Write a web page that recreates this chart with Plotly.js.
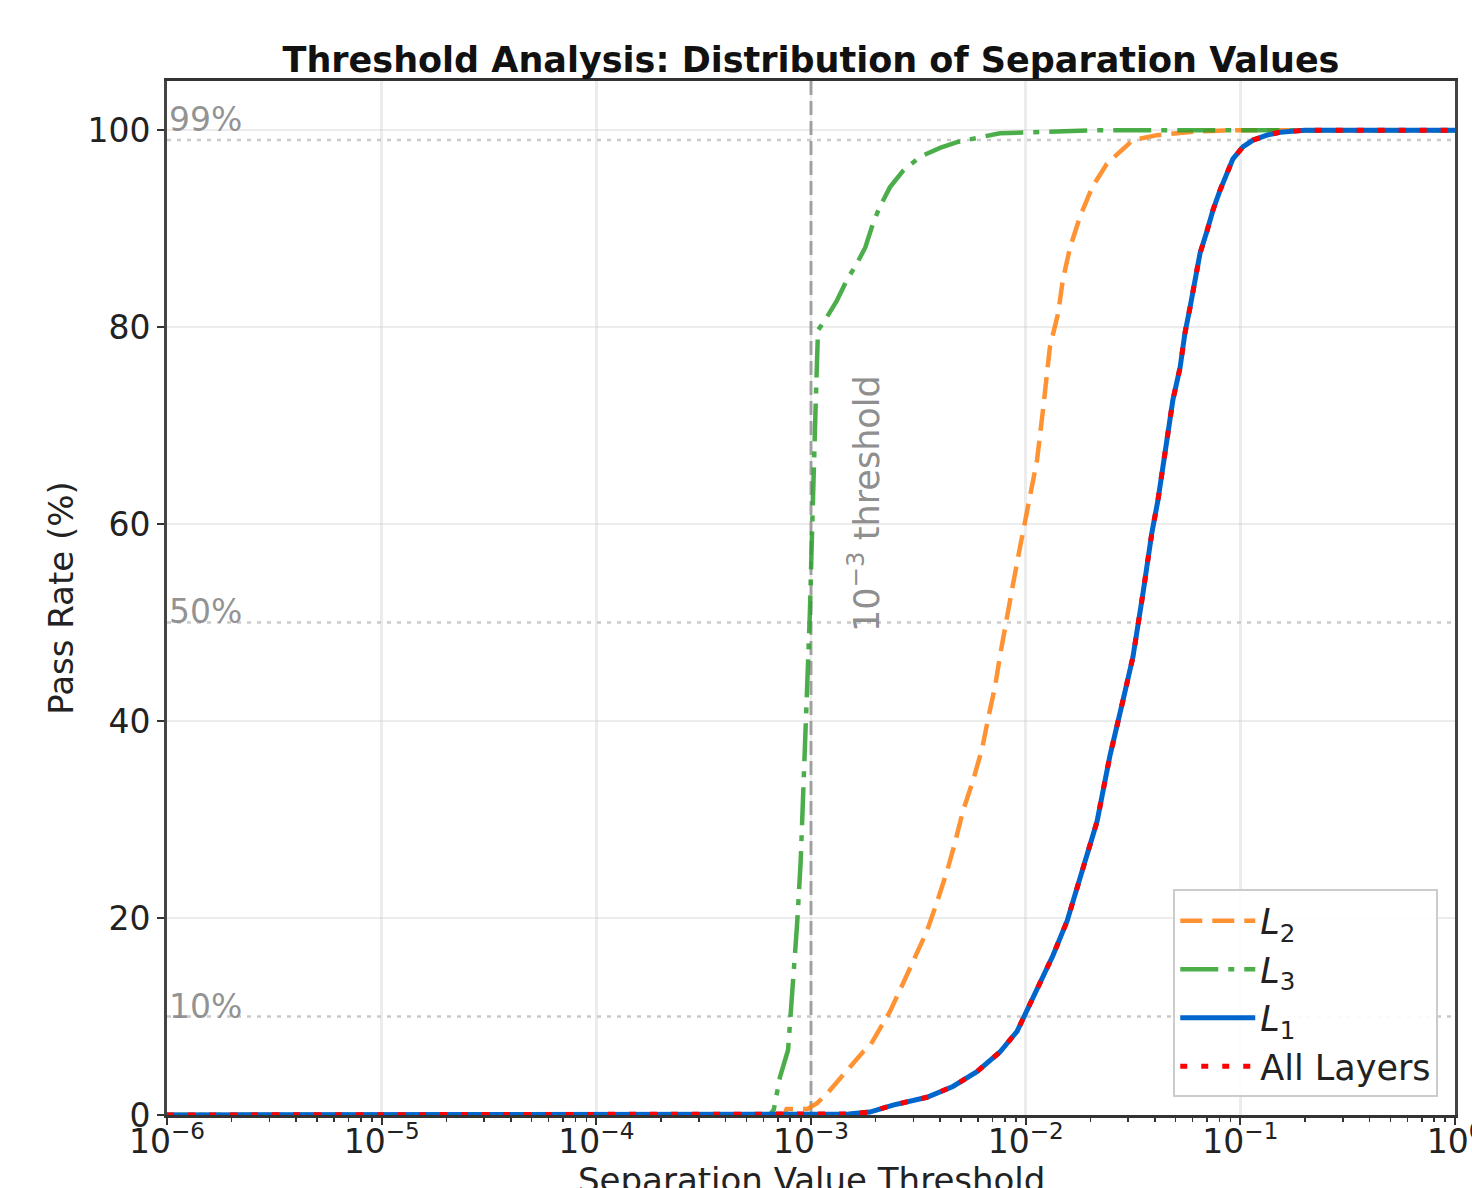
<!DOCTYPE html>
<html>
<head>
<meta charset="utf-8">
<script src="https://cdn.plot.ly/plotly-3.0.1.min.js"></script>
<style>html,body{margin:0;padding:0;background:#fff;}#chart{width:1472px;height:1188px;}</style>
</head>
<body>
<div id="chart"></div>
<script>
// ---- data ----
const l2X = [1e-6, 7.5e-4, 7.7e-4, 9.6e-4, 1.067e-3, 1.19e-3, 1.365e-3, 1.52e-3, 1.745e-3, 1.88e-3, 2.16e-3, 2.33e-3, 2.6e-3, 2.99e-3, 3.47e-3, 3.86e-3, 4.31e-3, 4.69e-3, 5.11e-3, 5.69e-3, 6.27e-3, 6.69e-3, 7.2e-3, 7.59e-3, 8.02e-3, 8.63e-3, 9.42e-3, 1.026e-2, 1.13e-2, 1.21e-2, 1.297e-2, 1.416e-2, 1.49e-2, 1.61e-2, 1.79e-2, 2.04e-2, 2.39e-2, 3.16e-2, 4.09e-2, 6.5e-2, 0.1, 1];
const l2Y = [0, 0, 0.6, 0.6, 1.2, 2.2, 3.7, 4.9, 6.4, 7.0, 9.4, 10.5, 12.7, 15.5, 18.7, 21.6, 24.8, 27.7, 30.9, 34, 37.2, 40.3, 43.5, 46.6, 49.7, 53.3, 57.7, 61.7, 66.5, 72, 78, 81.4, 84.8, 88.1, 91.2, 94.2, 96.6, 99, 99.5, 99.9, 100, 100];

const l3X = [1e-6, 6.4e-4, 6.7e-4, 7.18e-4, 7.82e-4, 8.24e-4, 8.61e-4, 8.95e-4, 9.18e-4, 9.5e-4, 9.88e-4, 1.012e-3, 1.033e-3, 1.054e-3, 1.078e-3, 1.161e-3, 1.32e-3, 1.47e-3, 1.64e-3, 1.79e-3, 1.95e-3, 2.09e-3, 2.33e-3, 2.69e-3, 3.22e-3, 3.99e-3, 4.79e-3, 5.33e-3, 7.59e-3, 1.08e-2, 2.2e-2, 1];
const l3Y = [0, 0, 0.5, 3.9, 6.6, 12.9, 19.3, 25.7, 32.2, 38.4, 51, 59.4, 67.8, 72.9, 79.7, 80.7, 82.7, 84.8, 86.5, 88.1, 90.6, 92.2, 94.2, 95.9, 97.3, 98.2, 98.8, 99, 99.7, 99.8, 100, 100];

const l1X = [1e-6, 1.2e-3, 1.5e-3, 1.88e-3, 2.41e-3, 3.47e-3, 4.58e-3, 5.93e-3, 7.59e-3, 9.12e-3, 1.014e-2, 1.167e-2, 1.34e-2, 1.56e-2, 1.73e-2, 1.93e-2, 2.15e-2, 2.29e-2, 2.47e-2, 2.84e-2, 3.16e-2, 3.52e-2, 3.87e-2, 4.13e-2, 4.37e-2, 4.6e-2, 4.85e-2, 5.24e-2, 5.52e-2, 5.83e-2, 6.15e-2, 6.49e-2, 7.0e-2, 7.46e-2, 8.04e-2, 8.67e-2, 9.24e-2, 0.1028, 0.1146, 0.133, 0.153, 0.2, 1];
const l1Y = [0, 0, 0.1, 0.3, 1.0, 1.8, 2.9, 4.4, 6.4, 8.5, 10.7, 13.4, 16.2, 19.7, 22.8, 26.4, 29.8, 32.7, 36.5, 42.1, 46.5, 53, 59.1, 62.4, 65.8, 69.2, 72.6, 75.9, 79.4, 82, 84.8, 87.5, 89.8, 91.9, 93.9, 95.6, 97.1, 98.3, 99, 99.5, 99.8, 100, 100];

// "All Layers" coincides with L1 in the reference
const allX = l1X.slice();
const allY = l1Y.slice();

const xTickVals = [1e-6, 1e-5, 1e-4, 1e-3, 1e-2, 1e-1, 1];
const xTickText = ['10<sup>−6</sup>', '10<sup>−5</sup>', '10<sup>−4</sup>', '10<sup>−3</sup>', '10<sup>−2</sup>', '10<sup>−1</sup>', '10<sup>0</sup>'];
const yTickVals = [0, 20, 40, 60, 80, 100];

const refLevels = [99, 50, 10];
const refLabels = ['99%', '50%', '10%'];
const thresholdX = [1e-3, 1e-3];
const thresholdY = [0, 105];

const FONT = 'DejaVu Sans, sans-serif';

const traces = [
  {x: thresholdX, y: thresholdY, mode: 'lines', showlegend: false, hoverinfo: 'skip',
   line: {color: 'rgba(128,128,128,0.7)', width: 3, dash: '14px,6px'}},
  {x: l2X, y: l2Y, mode: 'lines', name: '<i>L</i><sub>2</sub>',
   line: {color: 'rgba(255,127,14,0.85)', width: 4.5, dash: '22px,10px'}},
  {x: l3X, y: l3Y, mode: 'lines', name: '<i>L</i><sub>3</sub>',
   line: {color: 'rgba(44,160,44,0.85)', width: 4.5, dash: '38px,10px,6px,10px'}},
  {x: l1X, y: l1Y, mode: 'lines', name: '<i>L</i><sub>1</sub>',
   line: {color: '#0066CC', width: 5}},
  {x: allX, y: allY, mode: 'lines', name: 'All Layers',
   line: {color: '#FF0000', width: 5, dash: '7px,14px'}}
];

const shapes = refLevels.map(v => ({
  type: 'line', xref: 'paper', x0: 0, x1: 1, yref: 'y', y0: v, y1: v,
  line: {color: 'rgba(180,180,180,0.7)', width: 2.5, dash: '4px,6px'}, layer: 'below'
}));

const labelY = [101.1, 51.1, 11.0];
const annotations = refLabels.map((t, i) => ({
  xref: 'paper', x: 0, xanchor: 'left', yref: 'y', y: labelY[i], yanchor: 'middle',
  text: t, showarrow: false, font: {family: FONT, size: 33, color: 'rgba(128,128,128,0.85)'}
}));
annotations.push({
  xref: 'x', x: Math.log10(1.766e-3), yref: 'y', y: 48.8, xanchor: 'center', yanchor: 'bottom',
  text: '10<sup>−3</sup> threshold', textangle: -90, showarrow: false,
  font: {family: FONT, size: 35, color: 'rgba(128,128,128,0.9)'}
});
// x-axis title, placed lower than the margin allows for an axis title (partly cut off, as in the reference)
annotations.push({
  xref: 'paper', x: 0.5, xanchor: 'center', yref: 'paper', y: -0.042, yanchor: 'top',
  text: 'Separation Value Threshold', showarrow: false,
  font: {family: FONT, size: 34, color: '#222'}
});

const layout = {
  width: 1472, height: 1188,
  margin: {l: 167, r: 17, t: 81, b: 73},
  paper_bgcolor: '#fff', plot_bgcolor: '#fff',
  font: {family: FONT, size: 34, color: '#222'},
  title: {text: '<b>Threshold Analysis: Distribution of Separation Values</b>',
          font: {family: FONT, size: 35, color: '#111'}, x: 0.5, xref: 'paper', xanchor: 'center',
          y: 1 - 60/1188, yanchor: 'middle'},
  xaxis: {
    type: 'log', range: [-6, 0], tickvals: xTickVals, ticktext: xTickText,
    showgrid: true, gridcolor: 'rgba(200,200,200,0.35)', gridwidth: 2.5,
    showline: true, linecolor: '#333', linewidth: 3, mirror: true,
    ticks: 'outside', ticklen: 7, tickwidth: 2, tickcolor: '#333',
    tickfont: {family: FONT, size: 33, color: '#222'}, ticklabelstandoff: -12,
    ticklabeloverflow: 'allow',
    minor: {ticks: 'outside', ticklen: 4, tickwidth: 1.5, tickcolor: '#333', showgrid: false, dtick: 'D1'},
    zeroline: false, automargin: false
  },
  yaxis: {
    range: [0, 105], tickvals: yTickVals,
    showgrid: true, gridcolor: 'rgba(200,200,200,0.35)', gridwidth: 2.5,
    showline: true, linecolor: '#444', linewidth: 3, mirror: true,
    ticks: 'outside', ticklen: 7, tickwidth: 2, tickcolor: '#333',
    tickfont: {family: FONT, size: 33, color: '#222'},
    zeroline: false, automargin: false,
    title: {text: 'Pass Rate (%)', font: {family: FONT, size: 34, color: '#222'}, standoff: 4}
  },
  legend: {
    x: 0.987, xanchor: 'right', y: 0.017, yanchor: 'bottom',
    bgcolor: 'rgba(255,255,255,0.9)', bordercolor: '#cccccc', borderwidth: 2,
    font: {family: FONT, size: 35, color: '#222'}, itemwidth: 75
  },
  shapes: shapes,
  annotations: annotations,
  showlegend: true
};

Plotly.newPlot('chart', traces, layout, {displayModeBar: false, staticPlot: true});
</script>
</body>
</html>
